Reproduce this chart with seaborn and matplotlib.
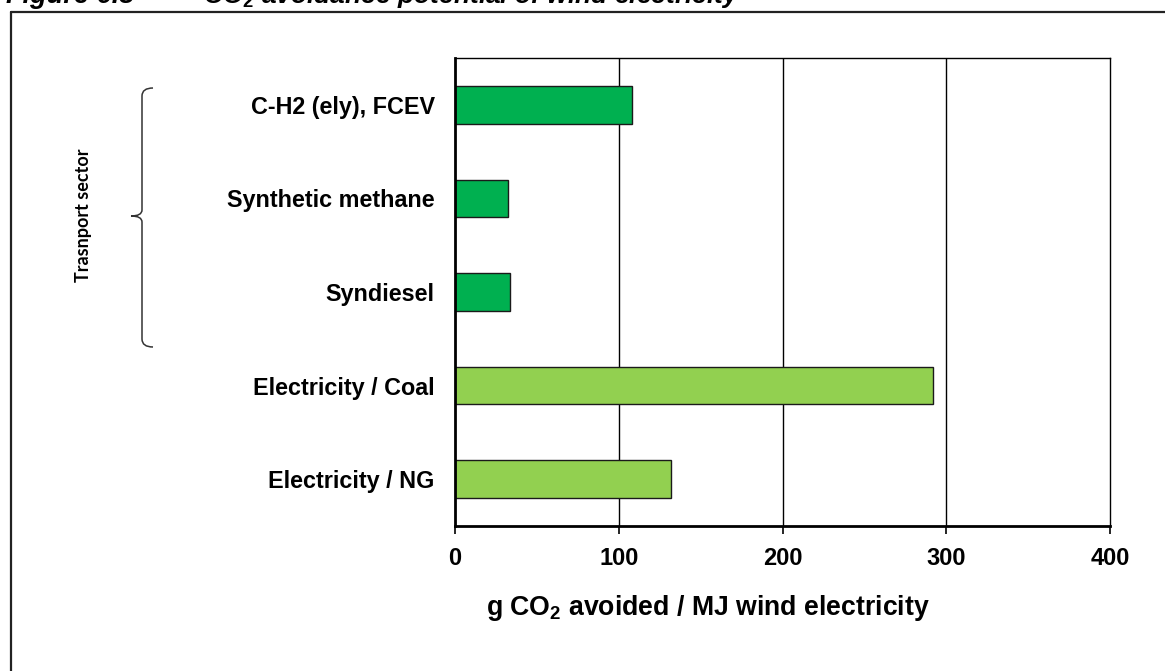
import matplotlib
matplotlib.use("Agg")
import matplotlib.pyplot as plt
from matplotlib.lines import Line2D
from matplotlib.path import Path
from matplotlib.patches import PathPatch
import seaborn as sns
import pandas as pd

# Data
categories = ["C-H2 (ely), FCEV", "Synthetic methane", "Syndiesel",
              "Electricity / Coal", "Electricity / NG"]
avoided = [108, 32.5, 33.5, 292, 132]
bar_colors = ["#00B050", "#00B050", "#00B050", "#92D050", "#92D050"]
x_ticks = [0, 100, 200, 300, 400]

sns.set_theme(style="white")
plt.rcParams["font.family"] = ["Liberation Sans", "DejaVu Sans"]
plt.rcParams["mathtext.fontset"] = "custom"
plt.rcParams["mathtext.rm"] = "Liberation Sans:bold"
plt.rcParams["mathtext.it"] = "Liberation Sans:bold:italic"
plt.rcParams["mathtext.bf"] = "Liberation Sans:bold"
plt.rcParams["mathtext.default"] = "rm"

W, H = 1165, 671
fig = plt.figure(figsize=(W / 100, H / 100), dpi=100)
fig.patch.set_facecolor("white")


def px(x, y):
    """Pixel position (from top-left) to figure fraction."""
    return x / W, (H - y) / H


# plot area in pixel terms
left, right, top, bottom = 455, 1110, 58, 526
ax = fig.add_axes([left / W, (H - bottom) / H, (right - left) / W, (bottom - top) / H])

df = pd.DataFrame({"category": categories, "value": avoided})
sns.barplot(data=df, x="value", y="category", hue="category",
            palette=bar_colors, legend=False, orient="h", width=0.4,
            edgecolor="#1a1a1a", linewidth=1.0, saturation=1, ax=ax, zorder=3)

ax.set_xlim(0, 400)
ax.set_ylim(4.5, -0.5)
ax.set_xticks(x_ticks)
ax.set_xticklabels([str(t) for t in x_ticks])
ax.set_ylabel("")
ax.set_xlabel("")
ax.set_facecolor("white")

# vertical gridlines
ax.grid(False)
for t in x_ticks[1:-1]:
    ax.axvline(t, color="black", lw=1.0, zorder=1)

for side in ["top", "right"]:
    ax.spines[side].set_visible(True)
    ax.spines[side].set_color("black")
    ax.spines[side].set_linewidth(1.0)
for side in ["left", "bottom"]:
    ax.spines[side].set_visible(True)
    ax.spines[side].set_color("black")
    ax.spines[side].set_linewidth(2.0)
ax.spines["left"].set_zorder(4)

ax.tick_params(axis="x", direction="out", length=6, width=1.2, color="black",
               pad=9, labelsize=17, bottom=True)
ax.tick_params(axis="y", length=0, pad=14.5, labelsize=16.8)
for lab in ax.get_xticklabels() + ax.get_yticklabels():
    lab.set_fontweight("bold")
    lab.set_color("black")

# axis title, placed left of the plot centre
fig.text(px(708, 608)[0], px(708, 608)[1],
         r"g CO$_{2}$ avoided / MJ wind electricity", fontsize=19.2,
         fontweight="bold", color="black", ha="center", va="center")

# outer frame (left and top edges)
fig.add_artist(Line2D([px(11, 12)[0], px(11, H + 5)[0]],
                      [px(11, 12)[1], px(11, H + 5)[1]],
                      color="#222222", lw=1.6, transform=fig.transFigure))
fig.add_artist(Line2D([px(11, 12)[0], px(W + 5, 12)[0]],
                      [px(11, 12)[1], px(W + 5, 12)[1]],
                      color="#222222", lw=1.6, transform=fig.transFigure))

# figure caption along the top edge
fig.text(px(6, 3)[0], px(6, 3)[1], "Figure 6.8", fontsize=19.5, fontweight="bold",
         fontstyle="italic", va="baseline", ha="left", color="black")
fig.text(px(203, 3)[0], px(203, 3)[1],
         r"CO$_{2}$ avoidance potential of wind electricity",
         fontsize=19, fontweight="bold", fontstyle="italic",
         va="baseline", ha="left", color="black")

# curly brace grouping the transport options
bx, tip, y0, ym, y1 = 142, 131, 88, 216, 347
verts = [px(153, y0), px(bx, y0), px(bx, y0 + 8),
         px(bx, ym - 6),
         px(bx, ym), px(tip, ym),
         px(bx, ym), px(bx, ym + 6),
         px(bx, y1 - 8), px(bx, y1), px(153, y1)]
codes = [Path.MOVETO, Path.CURVE3, Path.CURVE3,
         Path.LINETO,
         Path.CURVE3, Path.CURVE3,
         Path.CURVE3, Path.CURVE3,
         Path.LINETO, Path.CURVE3, Path.CURVE3]
brace = PathPatch(Path(verts, codes), transform=fig.transFigure,
                  fill=False, edgecolor="#333333", lw=1.1)
fig.add_artist(brace)

fig.text(px(84, 215)[0], px(84, 215)[1], "Trasnport sector", rotation=90,
         fontsize=13, fontweight="bold", family=["Lato", "DejaVu Sans"],
         ha="center", va="center", color="black")

fig.savefig("out.png", dpi=100, facecolor="white")
